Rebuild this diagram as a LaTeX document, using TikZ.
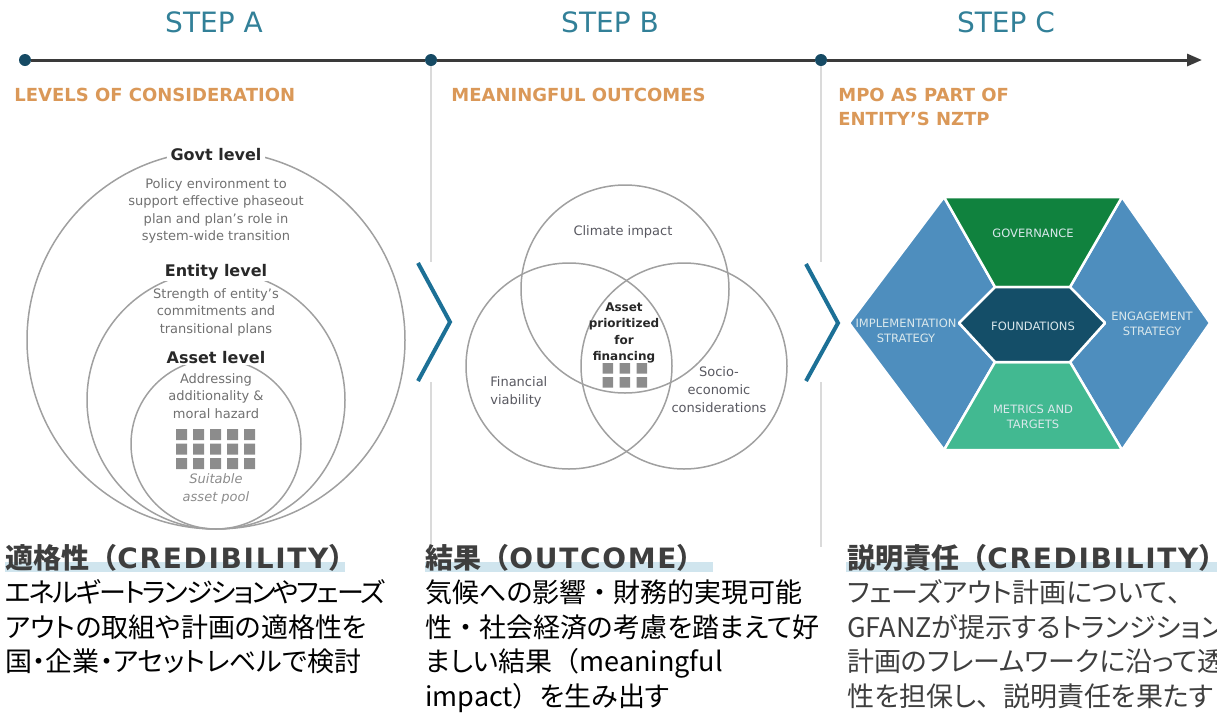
\documentclass[tikz,border=0pt]{standalone}
\usepackage{fontspec}
\setmainfont{DejaVu Sans}
\newfontfamily\jpfont[RawFeature=+palt]{Noto Sans CJK JP}
\newfontfamily\jpnarrow[RawFeature=+palt, LetterSpace=-7.5]{Noto Sans CJK JP}
\newfontfamily\jpfull{Noto Sans CJK JP}
\newfontfamily\headlatin[LetterSpace=6]{DejaVu Sans}
\newcommand{\fw}[1]{{\jpfull #1}}
\newcommand{\hl}[1]{{\headlatin\bfseries #1}}
\usepackage{tikz}
\usetikzlibrary{arrows.meta}
\tikzset{every picture/.style={line width=0.75pt}}

\definecolor{stepteal}{RGB}{50,128,152}
\definecolor{dotblue}{RGB}{22,74,100}
\definecolor{suborange}{RGB}{218,152,88}
\definecolor{ringgray}{RGB}{160,160,160}
\definecolor{lvldark}{RGB}{40,40,40}
\definecolor{descgray}{RGB}{112,112,112}
\definecolor{sqgray}{RGB}{140,140,140}
\definecolor{chevblue}{RGB}{28,112,150}
\definecolor{hexblue}{RGB}{78,142,190}
\definecolor{hexgreen}{RGB}{16,130,62}
\definecolor{hexmint}{RGB}{66,185,145}
\definecolor{hexdark}{RGB}{20,78,104}
\definecolor{hextext}{RGB}{218,232,236}
\definecolor{barblue}{RGB}{208,229,238}
\definecolor{headgray}{RGB}{62,62,62}
\definecolor{bodygray}{RGB}{62,62,62}

\begin{document}
\begin{tikzpicture}[x=1pt,y=1pt,yscale=-1,xscale=1,
  steplbl/.style={font=\fontsize{28}{30}\selectfont, text=stepteal, inner sep=0},
  tldot/.style={circle, fill=dotblue, minimum size=12pt, inner sep=0},
  tlline/.style={draw={rgb,255:red,58;green,58;blue,58}, line width=3pt},
  divider/.style={draw={rgb,255:red,218;green,218;blue,218}, line width=1.5pt},
  chev/.style={draw=chevblue, line width=4pt, miter limit=10},
  subhead/.style={font=\bfseries\fontsize{18}{24}\selectfont, text=suborange, anchor=base west, inner sep=0},
  ring/.style={draw=ringgray, line width=1.5pt},
  lvl/.style={font=\bfseries\fontsize{16}{18}\selectfont, text=lvldark, fill=white, inner xsep=4pt, inner ysep=1pt},
  desc/.style={font=\fontsize{13}{17.5}\selectfont, text=descgray, align=center, inner sep=0},
  venntxt/.style={font=\fontsize{13}{18}\selectfont, text={rgb,255:red,88;green,88;blue,96}, inner sep=0},
  sq/.style={fill=sqgray},
  hexcell/.style={draw=white, line width=2.5pt, line join=round},
  hexlbl/.style={font=\fontsize{11.5}{14.5}\selectfont, text=hextext, align=center, inner sep=0},
  hlbar/.style={fill=barblue},
  jphead/.style={font=\jpfull\bfseries\fontsize{28}{30}\selectfont, text=headgray, anchor=base west, inner sep=0},
  jpbody/.style={font=\jpfont\fontsize{27}{30}\selectfont, anchor=base west, inner sep=0}]

\clip (0,0) rectangle (1217,713);
\useasboundingbox (0,0) rectangle (1217,713);

% Text Node
\node[steplbl] (stepA) at (214,22) {STEP A};
% Text Node
\node[steplbl] (stepB) at (610,22) {STEP B};
% Text Node
\node[steplbl] (stepC) at (1006,22) {STEP C};

%Shape: timeline
\node[tldot] (dotA) at (25,60) {};
\node[tldot] (dotB) at (431,60) {};
\node[tldot] (dotC) at (821,60) {};
\coordinate (tlend) at (1202,60);
\draw[tlline] (dotA) -- (dotB);
\draw[tlline] (dotB) -- (dotC);
\draw[tlline, -{Triangle[length=15pt,width=12pt]}] (dotC) -- (tlend);

%Straight Lines: dividers
\coordinate (divBa) at (431,262);
\coordinate (divBb) at (431,382);
\coordinate (divBc) at (431,545);
\coordinate (divCa) at (821,262);
\coordinate (divCb) at (821,382);
\coordinate (divCc) at (821,547);
\draw[divider] (dotB) -- (divBa);
\draw[divider] (divBb) -- (divBc);
\draw[divider] (dotC) -- (divCa);
\draw[divider] (divCb) -- (divCc);

%Shape: chevrons
\draw[chev] (418,263) -- (450,322) -- (418,381);
\draw[chev] (806,264) -- (838,323) -- (806,381);

% Text Node
\node[subhead] (subA) at (14,101) {LEVELS OF CONSIDERATION};
% Text Node
\node[subhead] (subB) at (451,101) {MEANINGFUL OUTCOMES};
% Text Node
\node[subhead] (subC) at (838,101) {MPO AS PART OF};
\node[subhead] (subC2) at (838,125) {ENTITY'S NZTP};

%Shape: Circle (levels)
\draw[ring] (216,340) circle (189);
\draw[ring] (216,400) circle (129);
\draw[ring] (216,444) circle (85);

% Text Node
\node[lvl] (govt) at (216,155) {Govt level};
\node[desc] (govtdesc) at (216,211) {Policy environment to\\support effective phaseout\\plan and plan's role in\\system-wide transition};
% Text Node
\node[lvl] (entity) at (216,272) {Entity level};
\node[desc] (entitydesc) at (216,312) {Strength of entity's\\commitments and\\transitional plans};
% Text Node
\node[lvl] (asset) at (216,358) {Asset level};
\node[desc] (assetdesc) at (216,396) {Addressing\\additionality \&\\moral hazard};

%Shape: asset pool
\fill[sq] (176,429) rectangle ++(11,11) (193,429) rectangle ++(11,11) (210,429) rectangle ++(11,11) (227,429) rectangle ++(11,11) (244,429) rectangle ++(11,11);
\fill[sq] (176,443.5) rectangle ++(11,11) (193,443.5) rectangle ++(11,11) (210,443.5) rectangle ++(11,11) (227,443.5) rectangle ++(11,11) (244,443.5) rectangle ++(11,11);
\fill[sq] (176,458) rectangle ++(11,11) (193,458) rectangle ++(11,11) (210,458) rectangle ++(11,11) (227,458) rectangle ++(11,11) (244,458) rectangle ++(11,11);
% Text Node
\node[desc, font=\itshape\fontsize{13}{18}\selectfont, text=sqgray] (pool) at (216,489) {Suitable\\asset pool};

%Shape: Circle (venn)
\draw[ring] (625,289) circle (104);
\draw[ring] (569,366) circle (103);
\draw[ring] (684,366) circle (103);

% Text Node
\node[venntxt] (climate) at (623,232) {Climate impact};
\node[venntxt, align=left, anchor=west] (financial) at (490,392) {Financial\\viability};
\node[venntxt, align=center] (socio) at (719,390) {Socio-\\economic\\considerations};
\node[font=\bfseries\fontsize{12}{16.5}\selectfont, text=lvldark, align=center, inner sep=0] (prior) at (624,333) {Asset\\prioritized\\for\\financing};

%Shape: prioritized assets
\fill[sq] (602.5,363) rectangle ++(10.5,10.5) (619.5,363) rectangle ++(10.5,10.5) (636.5,363) rectangle ++(10.5,10.5);
\fill[sq] (602.5,377) rectangle ++(10.5,10.5) (619.5,377) rectangle ++(10.5,10.5) (636.5,377) rectangle ++(10.5,10.5);

%Shape: hexagon
\filldraw[hexcell, fill=hexblue] (849,323) -- (944,197) -- (995,287) -- (959,323) -- (995,362) -- (944,450) -- cycle;
\filldraw[hexcell, fill=hexblue] (1122,197) -- (1210,323) -- (1122,450) -- (1070,362) -- (1105,323) -- (1070,287) -- cycle;
\filldraw[hexcell, fill=hexgreen] (944,197) -- (1122,197) -- (1070,287) -- (995,287) -- cycle;
\filldraw[hexcell, fill=hexmint] (995,362) -- (1070,362) -- (1122,450) -- (944,450) -- cycle;
\filldraw[hexcell, fill=hexdark] (959,323) -- (995,287) -- (1070,287) -- (1105,323) -- (1070,362) -- (995,362) -- cycle;

% Text Node
\node[hexlbl] (gov) at (1033,233) {GOVERNANCE};
\node[hexlbl] (found) at (1033,326) {FOUNDATIONS};
\node[hexlbl] (impl) at (906,331) {IMPLEMENTATION\\STRATEGY};
\node[hexlbl] (engage) at (1152,324) {ENGAGEMENT\\STRATEGY};
\node[hexlbl] (metrics) at (1033,417) {METRICS AND\\TARGETS};

%Shape: heading bars
\fill[hlbar] (5,562) rectangle (345,572);
\fill[hlbar] (425,562) rectangle (713,572);
\fill[hlbar] (846,562) rectangle (1217,572);

% Text Node
\node[jphead] (headA) at (5,568) {適格性（\hl{CREDIBILITY}）};
\node[jpbody, font=\jpnarrow\fontsize{27}{30}\selectfont] (bodyA1) at (5,602) {エネルギートランジションやフェーズ};
\node[jpbody] (bodyA2) at (5,637) {アウトの取組や計画の適格性を};
\node[jpbody] (bodyA3) at (5,671) {国・企業・アセットレベルで検討};
% Text Node
\node[jphead] (headB) at (425,568) {結果（\hl{OUTCOME}）};
\node[jpbody] (bodyB1) at (425,602) {気候への影響\fw{・}財務的実現可能};
\node[jpbody] (bodyB2) at (425,637) {性\fw{・}社会経済の考慮を踏まえて好};
\node[jpbody] (bodyB3) at (425,671) {ましい結果\fw{（}meaningful};
\node[jpbody] (bodyB4) at (425,706) {impact\fw{）}を生み出す};
% Text Node
\node[jphead] (headC) at (847,568) {説明責任（\hl{CREDIBILITY}）};
\node[jpbody, text=bodygray] (bodyC1) at (847,602) {フェーズアウト計画について\fw{、}};
\node[jpbody, text=bodygray] (bodyC2) at (847,637) {GFANZが提示するトランジション};
\node[jpbody, text=bodygray] (bodyC3) at (847,671) {計画のフレームワークに沿って透明};
\node[jpbody, text=bodygray] (bodyC4) at (847,706) {性を担保し\fw{、}説明責任を果たす};

\end{tikzpicture}
\end{document}
